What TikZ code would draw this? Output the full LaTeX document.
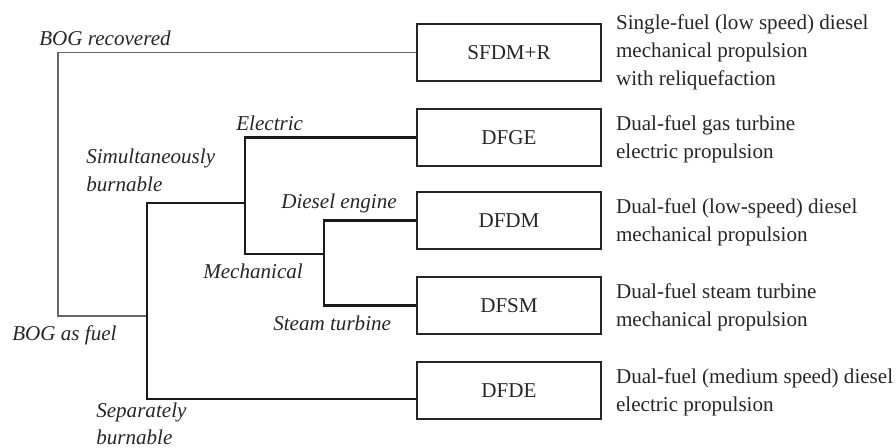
\documentclass[tikz,border=0pt]{standalone}
\usepackage{fontspec}
\setmainfont{Liberation Serif}
\usepackage{tikz}
\usetikzlibrary{positioning}
\definecolor{inkgray}{HTML}{262626}
\tikzset{
  sistem/.style   = {draw=inkgray, line width=1.1pt, minimum width=4.6cm, minimum height=1.425cm,
                     font=\fontsize{15}{19.5}\selectfont, text=inkgray},
  descriere/.style= {align=left, inner sep=0pt, font=\fontsize{15}{20}\selectfont, text=inkgray},
  ramura/.style   = {align=left, inner sep=0pt, font=\fontsize{15}{19.5}\selectfont\itshape, text=inkgray},
  liniesub/.style = {draw=black!60, line width=1.1pt},
  liniegro/.style = {draw=black!90, line width=1.6pt}
}
\begin{document}
\begin{tikzpicture}[x=0.025cm, y=-0.025cm, node distance=0.35cm]
  \useasboundingbox (0,0) rectangle (896,448);

  % propulsion systems
  \node[sistem] (sfdm) at (509,52.5) {SFDM+R};
  \node[sistem] (dfge) at (509,137.5) {DFGE};
  \node[sistem] (dfdm) at (509,220.5) {DFDM};
  \node[sistem] (dfsm) at (509,305.5) {DFSM};
  \node[sistem] (dfde) at (509,390.5) {DFDE};

  \node[descriere, right=of sfdm] (dsfdm) {Single-fuel (low speed) diesel\\ mechanical propulsion\\ with reliquefaction};
  \node[descriere, right=of dfge, yshift=-0.05cm] (ddfge) {Dual-fuel gas turbine\\ electric propulsion};
  \node[descriere, right=of dfdm, yshift=-0.05cm] (ddfdm) {Dual-fuel (low-speed) diesel\\ mechanical propulsion};
  \node[descriere, right=of dfsm, yshift=-0.05cm] (ddfsm) {Dual-fuel steam turbine\\ mechanical propulsion};
  \node[descriere, right=of dfde, yshift=-0.05cm] (ddfde) {Dual-fuel (medium speed) diesel\\ electric propulsion};

  % branch points
  \coordinate (root) at (58,316);
  \coordinate (fuel) at (147,316);
  \coordinate (simul) at (147,203);
  \coordinate (separ) at (147,399);
  \coordinate (mech) at (245,254);
  \coordinate (engines) at (324,254);

  % tree
  \draw[liniesub] (sfdm.west) -| (root) -- (fuel);
  \draw[liniegro] (separ -| dfde.west) -- (separ) -- (simul) -- (simul -| mech);
  \draw[liniegro] (dfge.west) -| (mech) -- (engines);
  \draw[liniegro] (dfdm.west) -| (engines) |- (dfsm.west);

  % branch labels
  \node[ramura, anchor=west] (recov) at (39,38) {BOG recovered};
  \node[ramura, anchor=west] (asfuel) at (12,335) {BOG as fuel};
  \node[ramura, anchor=west] (simt) at (86,170.5) {Simultaneously\\ burnable};
  \node[ramura, anchor=west] (sept) at (96,424) {Separately\\ burnable};
  \node[ramura, anchor=west] (elect) at (236,123) {Electric};
  \node[ramura, anchor=west] (mecht) at (203,271) {Mechanical};
  \node[ramura, anchor=west] (diest) at (281,203) {Diesel engine};
  \node[ramura, anchor=west] (steamt) at (273,323) {Steam turbine};
\end{tikzpicture}
\end{document}
